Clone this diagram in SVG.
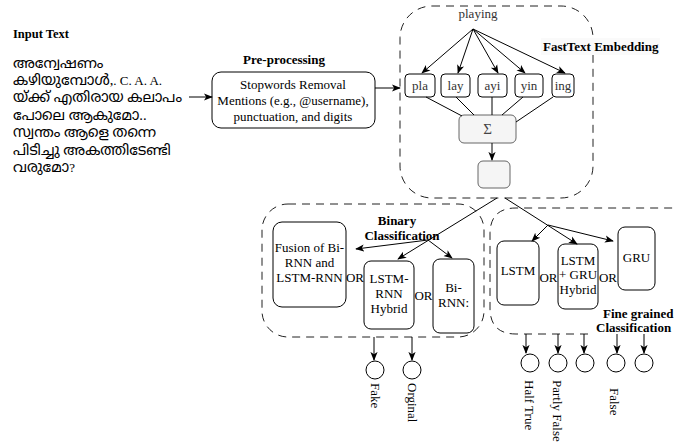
<svg xmlns="http://www.w3.org/2000/svg" width="677" height="445" viewBox="0 0 677 445">
<style>
text{font-family:"Liberation Serif","Times New Roman",serif;font-size:13px;fill:#000}
.b{font-weight:bold}
.c{text-anchor:middle}
.ml{font-family:"Liberation Serif","Noto Sans Malayalam","Noto Serif Malayalam",serif;font-size:14.6px}
.box{fill:#fff;stroke:#000;stroke-width:1}
.gbox{fill:#f5f5f5;stroke:#666;stroke-width:1}
.dash{fill:none;stroke:#222;stroke-width:1;stroke-dasharray:8 6}
.ln{fill:none;stroke:#000;stroke-width:1}
.ar{fill:none;stroke:#000;stroke-width:1;marker-end:url(#ah)}
.rot{dominant-baseline:central}
.g{fill:#333}
</style>
<defs>
<marker id="ah" viewBox="0 0 10 10" refX="9" refY="5" markerWidth="9" markerHeight="9" markerUnits="userSpaceOnUse" orient="auto">
<path d="M0,1 L10,5 L0,9 L2.5,5 z" fill="#000"/>
</marker>
</defs>

<g id="input">
<text class="b" x="13" y="38" style="font-size:12.5px">Input Text</text>
<text class="ml" x="13" y="68">അന്വേഷണം</text>
<text class="ml" x="13" y="85">കഴിയുമ്പോൾ,<tspan style="font-size:13px">. C. A. A.</tspan></text>
<text class="ml" x="13" y="102">യ്ക്ക് എതിരായ കലാപം</text>
<text class="ml" x="13" y="120">പോലെ ആകുമോ..</text>
<text class="ml" x="13" y="137">സ്വന്തം ആളെ തന്നെ</text>
<text class="ml" x="13" y="155">പിടിച്ചു അകത്തിടേണ്ടി</text>
<text class="ml" x="13" y="172">വരുമോ<tspan style="font-size:13px">?</tspan></text>
</g>

<g id="preprocessing">
<text class="b c" x="284" y="64">Pre-processing</text>
<rect class="box" x="212" y="72" width="163" height="56" rx="9"/>
<text class="c" x="293" y="89">Stopwords Removal</text>
<text class="c" x="293" y="105">Mentions (e.g., @username),</text>
<text class="c" x="293" y="121">punctuation, and digits</text>
</g>

<g id="embedding">
<rect class="dash" x="400" y="6" width="193" height="192" rx="32"/>
<rect x="541" y="38" width="119" height="17" fill="#fafafa"/>
<text class="b" x="543" y="51">FastText Embedding</text>
<text class="c g" x="478" y="18">playing</text>
<rect class="box" x="405" y="74" width="30" height="23" rx="4"/>
<text class="c g" x="420" y="90">pla</text>
<rect class="box" x="441" y="74" width="29" height="23" rx="4"/>
<text class="c g" x="455.5" y="90">lay</text>
<rect class="box" x="478" y="74" width="29" height="23" rx="4"/>
<text class="c g" x="492.5" y="90">ayi</text>
<rect class="box" x="515" y="74" width="28" height="23" rx="4"/>
<text class="c g" x="529" y="90">yin</text>
<rect class="box" x="552" y="74" width="22" height="23" rx="4"/>
<text class="c g" x="563" y="90">ing</text>
<rect class="gbox" x="459" y="115" width="57" height="28" rx="5"/>
<text class="c" x="487.5" y="134" style="fill:#444;font-size:15px">Σ</text>
<rect class="gbox" x="478" y="161" width="32" height="27" rx="5"/>
</g>

<g id="binary">
<rect class="dash" x="262" y="204" width="222" height="133" rx="26"/>
<text class="b c" x="397" y="225">Binary</text>
<text class="b c" x="402" y="240">Classification</text>
<rect class="box" x="273" y="222" width="73" height="85" rx="9"/>
<text class="c" x="309.5" y="252">Fusion of Bi-</text>
<text class="c" x="309.5" y="267">RNN and</text>
<text class="c" x="309.5" y="282">LSTM-RNN</text>
<text class="c" x="355" y="282">OR</text>
<rect class="box" x="364" y="261" width="50" height="68" rx="7"/>
<text class="c" x="389" y="283">LSTM-</text>
<text class="c" x="389" y="298">RNN</text>
<text class="c" x="389" y="313">Hybrid</text>
<text class="c" x="423.5" y="300">OR</text>
<rect class="box" x="433" y="259" width="41" height="74" rx="7"/>
<text class="c" x="453.5" y="292">Bi-</text>
<text class="c" x="453.5" y="307">RNN:</text>
</g>

<g id="fine">
<path class="dash" d="M700,334 L516,334 Q490,334 490,308 L490,234 Q490,208 516,208 L700,208"/>
<rect class="box" x="497" y="241" width="42" height="64" rx="7"/>
<text class="c" x="518" y="275">LSTM</text>
<text class="c" x="548.5" y="282">OR</text>
<rect class="box" x="558" y="244" width="40" height="65" rx="7"/>
<text class="c" x="578" y="265">LSTM</text>
<text class="c" x="578" y="279">+ GRU</text>
<text class="c" x="578" y="294">Hybrid</text>
<text class="c" x="608" y="282">OR</text>
<rect class="box" x="618" y="227" width="37" height="63" rx="7"/>
<text class="c" x="636.5" y="262">GRU</text>
<rect x="594" y="320" width="83" height="15" fill="#fff"/>
<text class="b" x="603" y="318">Fine grained</text>
<text class="b" x="596" y="332">Classification</text>
</g>

<g id="outputs">
<circle class="box" cx="375" cy="370" r="9"/>
<circle class="box" cx="412" cy="370" r="9"/>
<text class="rot" transform="translate(375,383) rotate(90)">Fake</text>
<text class="rot" transform="translate(412,383) rotate(90)">Orginal</text>
<circle class="box" cx="530" cy="363" r="9"/>
<circle class="box" cx="558" cy="363" r="9"/>
<circle class="box" cx="585" cy="363" r="9"/>
<circle class="box" cx="616" cy="363" r="9"/>
<circle class="box" cx="644" cy="363" r="9"/>
<text class="rot" transform="translate(529,380) rotate(90)">Half True</text>
<text class="rot" transform="translate(557,380) rotate(90)">Partly False</text>
<text class="rot" transform="translate(614,388) rotate(90)">False</text>
</g>

<g id="connectors">
<line class="ar" x1="189" y1="97" x2="212" y2="97"/>
<line class="ar" x1="375" y1="88" x2="400" y2="88"/>
<line class="ar" x1="473" y1="29" x2="422" y2="73"/>
<line class="ar" x1="473" y1="29" x2="458" y2="73"/>
<line class="ar" x1="473" y1="29" x2="498" y2="73"/>
<line class="ar" x1="473" y1="29" x2="525" y2="73"/>
<line class="ar" x1="473" y1="29" x2="565" y2="73"/>
<line class="ln" x1="426" y1="97" x2="462" y2="116"/>
<line class="ln" x1="456" y1="97" x2="474" y2="115"/>
<line class="ln" x1="492" y1="97" x2="492" y2="115"/>
<line class="ln" x1="523" y1="97" x2="502" y2="115"/>
<line class="ln" x1="553" y1="97" x2="516" y2="122"/>
<line class="ar" x1="492" y1="143" x2="492" y2="160"/>
<line class="ar" x1="497" y1="198" x2="398" y2="259"/>
<line class="ar" x1="428" y1="240" x2="356" y2="249"/>
<line class="ar" x1="428" y1="240" x2="452" y2="258"/>
<line class="ar" x1="505" y1="198" x2="577" y2="244"/>
<line class="ar" x1="548" y1="225" x2="532" y2="241"/>
<line class="ar" x1="548" y1="225" x2="613" y2="241"/>
<line class="ar" x1="374" y1="337" x2="374" y2="360"/>
<line class="ar" x1="412" y1="337" x2="412" y2="360"/>
<line class="ar" x1="526" y1="334" x2="526" y2="353"/>
<line class="ar" x1="558" y1="334" x2="558" y2="353"/>
<line class="ar" x1="584" y1="334" x2="584" y2="353"/>
<line class="ar" x1="617" y1="334" x2="617" y2="353"/>
<line class="ar" x1="644" y1="334" x2="644" y2="353"/>
</g>
</svg>
